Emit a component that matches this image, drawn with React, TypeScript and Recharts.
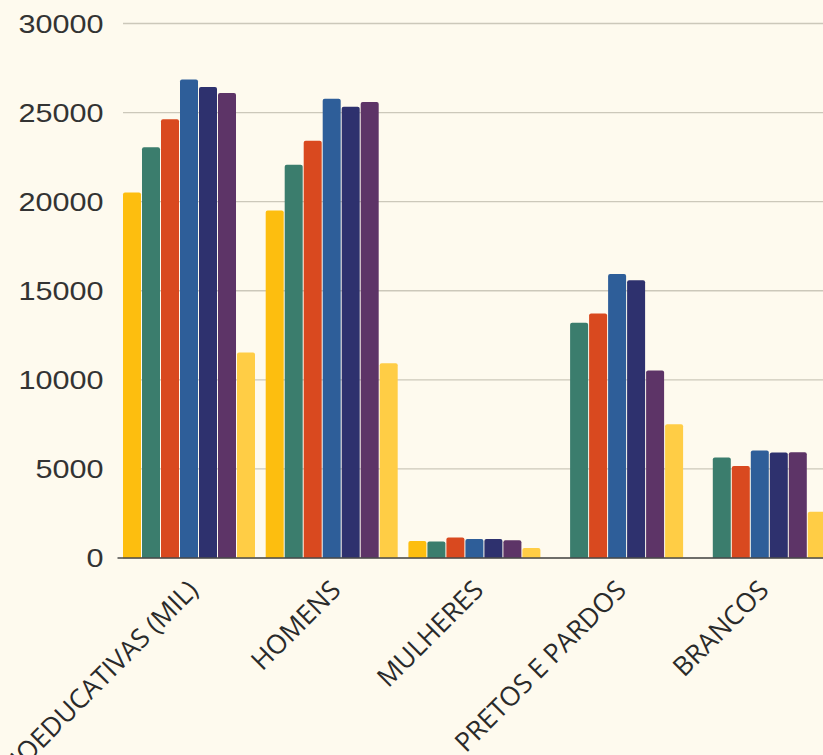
import React from "react";
import { BarChart, Bar, XAxis, YAxis, CartesianGrid } from "recharts";

const categories = [
  "MEDIDAS SOCIOEDUCATIVAS (MIL)",
  "HOMENS",
  "MULHERES",
  "PRETOS E PARDOS",
  "BRANCOS",
];
const s2012 = [20510, 19500, 950, null, null];
const s2013 = [23060, 22070, 920, 13210, 5640];
const s2014 = [24620, 23420, 1150, 13720, 5170];
const s2015 = [26860, 25780, 1060, 15940, 6040];
const s2016 = [26440, 25330, 1060, 15590, 5920];
const s2017 = [26100, 25590, 1000, 10520, 5940];
const s2023 = [11530, 10930, 560, 7510, 2600];
const yTicks = [0, 5000, 10000, 15000, 20000, 25000, 30000];

const series = [
  { key: "s2012", name: "2012", color: "#FDBE0F", values: s2012 },
  { key: "s2013", name: "2013", color: "#3B7D6D", values: s2013 },
  { key: "s2014", name: "2014", color: "#D9491F", values: s2014 },
  { key: "s2015", name: "2015", color: "#2E5E99", values: s2015 },
  { key: "s2016", name: "2016", color: "#2E316E", values: s2016 },
  { key: "s2017", name: "2017", color: "#5D3467", values: s2017 },
  { key: "s2023", name: "2023", color: "#FFCD45", values: s2023 },
];

const data = categories.map((cat, i) => {
  const row: any = { cat };
  series.forEach((s) => {
    row[s.key] = s.values[i];
  });
  return row;
});

const YTick = (props: any) => {
  const { x, y, payload } = props;
  return (
    <g transform={`translate(${x},${y})`}>
      <text
        transform="scale(1.2,1)"
        textAnchor="end"
        dy="0.36em"
        fontFamily="'Liberation Sans', Arial, sans-serif"
        fontSize={25.5}
        fill="#333333"
      >
        {payload.value}
      </text>
    </g>
  );
};

const XTick = (props: any) => {
  const { x, y, payload } = props;
  return (
    <g transform={`translate(${x + 4},${y + 19})`}>
      <text
        transform="rotate(-45)"
        textAnchor="end"
        dy="0.36em"
        fontFamily="'Open Sans', sans-serif"
        fontSize={26.5}
        fill="#2a2a2a"
      >
        {payload.value}
      </text>
    </g>
  );
};

const gridLine = (p: any) => (
  <line
    key={p.key}
    x1={p.x1 + 5.5}
    x2={p.x2}
    y1={p.y1}
    y2={p.y2}
    stroke="#CCC8BA"
    strokeWidth={1.4}
  />
);

export default function App() {
  return (
    <div
      style={{
        position: "absolute",
        left: 0,
        top: 0,
        width: 823,
        height: 755,
        overflow: "hidden",
        background: "#FEFAEE",
      }}
    >
      <BarChart
        width={900}
        height={755}
        data={data}
        margin={{ top: 23.5, right: 69, left: 0, bottom: 47 }}
        barCategoryGap={5.5}
        barGap={1}
      >
        <CartesianGrid vertical={false} horizontal={gridLine} />
        <XAxis
          dataKey="cat"
          interval={0}
          height={150}
          tickLine={false}
          tickSize={6}
          tickMargin={2}
          axisLine={{ stroke: "#4a4a4a", strokeWidth: 1.5 }}
          tick={<XTick />}
        />
        <YAxis
          domain={[0, 30000]}
          ticks={yTicks}
          width={117.5}
          axisLine={false}
          tickLine={false}
          tickSize={6}
          tickMargin={8}
          tick={<YTick />}
        />
        {series.map((s) => (
          <Bar
            key={s.key}
            dataKey={s.key}
            name={s.name}
            fill={s.color}
            radius={[2, 2, 0, 0]}
            isAnimationActive={false}
          />
        ))}
      </BarChart>
    </div>
  );
}
